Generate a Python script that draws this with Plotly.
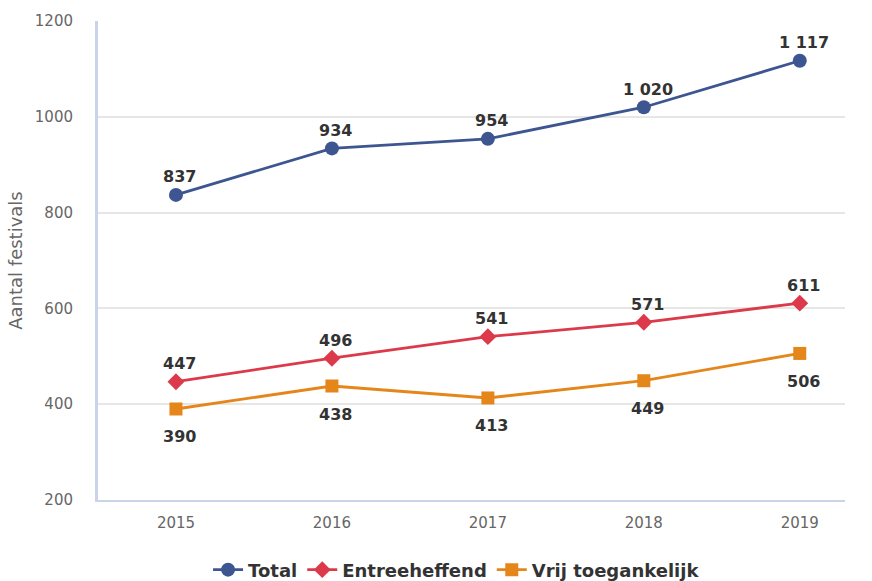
import plotly.graph_objects as go

years = ["2015", "2016", "2017", "2018", "2019"]
total = [837, 934, 954, 1020, 1117]
entree = [447, 496, 541, 571, 611]
vrij = [390, 438, 413, 449, 506]
total_labels = ["837", "934", "954", "1 020", "1 117"]
entree_labels = ["447", "496", "541", "571", "611"]
vrij_labels = ["390", "438", "413", "449", "506"]

x = list(range(len(years)))
font_family = "DejaVu Sans"
label_font = dict(family=font_family, size=16, color="#333333", weight="bold")

series = [
    ("Total", total, total_labels, "#3d5590", "circle", 14, 18),
    ("Entreeheffend", entree, entree_labels, "#dc3a4a", "diamond", 13, 18),
    ("Vrij toegankelijk", vrij, vrij_labels, "#e5861a", "square", 13, -28),
]

fig = go.Figure()
annotations = []
for name, vals, labels, color, sym, msize, shift in series:
    fig.add_trace(go.Scatter(
        x=x, y=vals, name=name, mode="lines+markers",
        line=dict(color=color, width=2.8),
        marker=dict(symbol=sym, size=msize, color=color),
    ))
    for xi, v, lab in zip(x, vals, labels):
        annotations.append(dict(
            x=xi, y=v, text=lab, showarrow=False, xref="x", yref="y",
            yshift=shift, xshift=4, font=label_font,
        ))

fig.update_layout(
    width=872, height=581,
    margin=dict(l=98, r=27, t=21, b=81, autoexpand=False),
    paper_bgcolor="white", plot_bgcolor="white",
    font=dict(family=font_family, color="#666666", size=15),
    showlegend=True,
    annotations=annotations,
    legend=dict(orientation="h", x=0.48, xanchor="center", y=-0.146, yanchor="middle",
                font=dict(family=font_family, size=18, color="#333333", weight="bold"),
                itemwidth=30, tracegroupgap=0),
    xaxis=dict(
        tickmode="array", tickvals=x, ticktext=years,
        range=[-0.5, 4.29], showgrid=False, zeroline=False,
        showline=True, linecolor="#c9d3ea", linewidth=2,
        ticks="", tickfont=dict(size=15, color="#666666"),
        ticklabelstandoff=8, automargin=False,
    ),
    yaxis=dict(
        range=[200, 1200], dtick=200, showgrid=True, gridcolor="#e6e6e6", gridwidth=2,
        zeroline=False, showline=True, linecolor="#c9d3ea", linewidth=3,
        ticks="", tickfont=dict(size=15, color="#666666"),
        ticklabelstandoff=19, automargin=False,
        title=dict(text="Aantal festivals", font=dict(size=18, color="#666666"), standoff=8),
    ),
)

fig.write_html("out.html", config={"displayModeBar": False},
               post_script="document.body.style.margin='0px';")
